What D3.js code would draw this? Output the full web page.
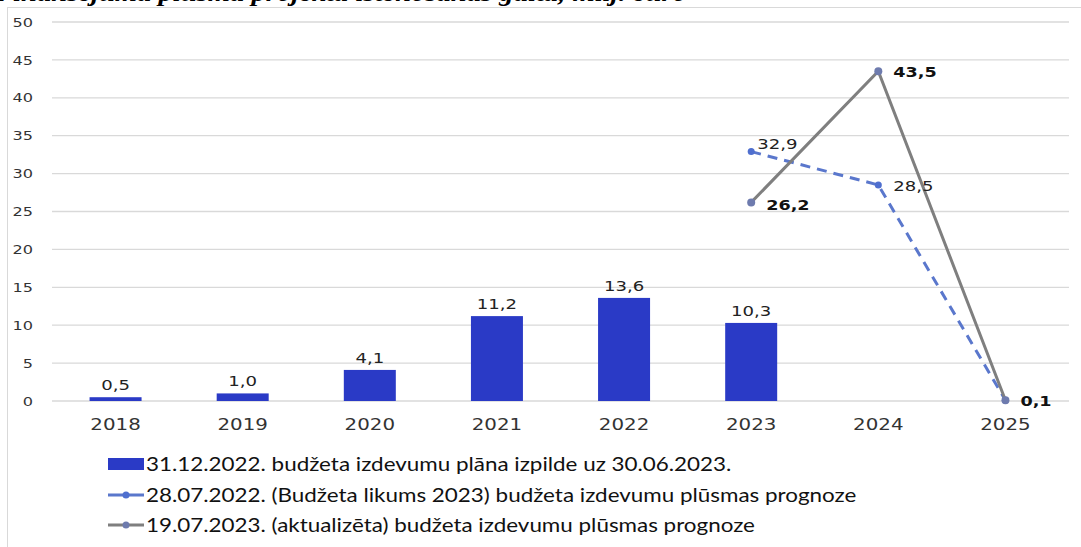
<!DOCTYPE html>
<html>
<head>
<meta charset="utf-8">
<script src="https://cdn.jsdelivr.net/npm/d3@7"></script>
<style>
  body { margin: 0; background: #fff; }
  svg { display: block; }
</style>
</head>
<body>
<svg id="chart"></svg>
<script>
const years = ["2018", "2019", "2020", "2021", "2022", "2023", "2024", "2025"];
const barValues = [0.5, 1.0, 4.1, 11.2, 13.6, 10.3, null, null];
const plan2022 = [null, null, null, null, null, 32.9, 28.5, 0.1];
const plan2023 = [null, null, null, null, null, 26.2, 43.5, 0.1];
const yTicks = [0, 5, 10, 15, 20, 25, 30, 35, 40, 45, 50];
const legendLabels = [
  "31.12.2022. budžeta izdevumu plāna izpilde uz 30.06.2023.",
  "28.07.2022. (Budžeta likums 2023) budžeta izdevumu plūsmas prognoze",
  "19.07.2023. (aktualizēta) budžeta izdevumu plūsmas prognoze"
];

const W = 1081, H = 547;
const SX = 1.24; // the picture is a bit wider than tall, so text is stretched
const fmt = v => v.toFixed(1).replace(".", ",");

const svg = d3.select("#chart").attr("width", W).attr("height", H);

// text helper: place at (x,y) and stretch horizontally around that point
function txt(sel, xf, yf) {
  return sel.attr("transform", (d, i) => `translate(${xf(d, i)},${yf(d, i)}) scale(${SX},1)`);
}

// cut-off title above the chart box
svg.append("text")
  .attr("transform", `translate(-6,1) scale(1.1,1)`)
  .style("font-family", "Liberation Serif")
  .style("font-style", "italic").style("font-weight", "bold")
  .style("font-size", "26px").attr("fill", "#000")
  .text("Finansējuma plūsma projekta īstenošanas gaitā, milj. euro");

// chart frame
svg.append("rect")
  .attr("x", 7.5).attr("y", 7.5).attr("width", W + 10).attr("height", H + 10)
  .attr("fill", "#fff").attr("stroke", "#d9d9d9");

const x = d3.scaleBand().domain(years).range([52, 1069]).paddingInner(0);
const y = d3.scaleLinear().domain([0, 50]).range([401, 22]);

// grid
svg.append("g").selectAll("line").data(yTicks).join("line")
  .attr("x1", 52).attr("x2", 1069)
  .attr("y1", d => y(d)).attr("y2", d => y(d))
  .attr("stroke", "#d9d9d9").attr("stroke-width", 1.3);

// y axis labels
txt(svg.append("g").selectAll("text").data(yTicks).join("text"),
    () => 33, d => y(d))
  .attr("dy", "0.36em")
  .attr("text-anchor", "end")
  .style("font-family", "DejaVu Sans").style("font-size", "13px")
  .attr("fill", "#333").text(d => d);

// x axis labels
txt(svg.append("g").selectAll("text").data(years).join("text"),
    d => x(d) + x.bandwidth() / 2, () => 430)
  .attr("text-anchor", "middle")
  .style("font-family", "DejaVu Sans").style("font-size", "16px")
  .attr("fill", "#333").text(d => d);

// bars
const barW = 52;
const bars = years.map((yr, i) => ({ yr, v: barValues[i] })).filter(d => d.v != null);
svg.append("g").selectAll("rect").data(bars).join("rect")
  .attr("x", d => x(d.yr) + x.bandwidth() / 2 - barW / 2)
  .attr("width", barW)
  .attr("y", d => y(d.v)).attr("height", d => y(0) - y(d.v))
  .attr("fill", "#2a3ac6");

txt(svg.append("g").selectAll("text").data(bars).join("text"),
    d => x(d.yr) + x.bandwidth() / 2, d => y(d.v) - 7)
  .attr("text-anchor", "middle")
  .style("font-family", "DejaVu Sans").style("font-size", "14.6px")
  .attr("fill", "#222").text(d => fmt(d.v));

const cx = d => x(d.yr) + x.bandwidth() / 2;
const line = d3.line().x(cx).y(d => y(d.v));

function series(vals) {
  return years.map((yr, i) => ({ yr, v: vals[i] })).filter(d => d.v != null);
}
const s1 = series(plan2022);
const s2 = series(plan2023);

// blue dashed forecast
svg.append("path").datum(s1).attr("d", line)
  .attr("fill", "none").attr("stroke", "#5a77cc")
  .attr("stroke-width", 3).attr("stroke-dasharray", "10,7");
svg.append("g").selectAll("circle").data(s1).join("circle")
  .attr("cx", cx).attr("cy", d => y(d.v)).attr("r", 3.5).attr("fill", "#4f6fcf");

// gray updated forecast
svg.append("path").datum(s2).attr("d", line)
  .attr("fill", "none").attr("stroke", "#7f7f7f").attr("stroke-width", 3);
svg.append("g").selectAll("circle").data(s2).join("circle")
  .attr("cx", cx).attr("cy", d => y(d.v)).attr("r", 4).attr("fill", "#6e7bae");

// line labels
const s1Off = [[6, -8], [15, 1]];
txt(svg.append("g").selectAll("text").data(s1.slice(0, 2)).join("text"),
    (d, i) => cx(d) + s1Off[i][0], (d, i) => y(d.v) + s1Off[i][1])
  .attr("dy", "0.36em")
  .style("font-family", "DejaVu Sans").style("font-size", "14.6px")
  .attr("fill", "#222").text(d => fmt(d.v));

const s2Off = [[15, 2], [15, 1], [15, 1]];
txt(svg.append("g").selectAll("text").data(s2).join("text"),
    (d, i) => cx(d) + s2Off[i][0], (d, i) => y(d.v) + s2Off[i][1])
  .attr("dy", "0.36em")
  .style("font-family", "DejaVu Sans").style("font-size", "14.2px").style("font-weight", "bold")
  .attr("fill", "#111").text(d => fmt(d.v));

// legend
const lg = svg.append("g").attr("transform", "translate(108,0)");
const rowsY = [464, 495, 525];
lg.append("rect").attr("x", 0).attr("y", rowsY[0] - 6).attr("width", 36).attr("height", 12).attr("fill", "#2a3ac6");
[["#5a77cc", "#4f6fcf"], ["#7f7f7f", "#6e7bae"]].forEach(([c, m], i) => {
  const yy = rowsY[i + 1];
  lg.append("line").attr("x1", 0).attr("x2", 36).attr("y1", yy).attr("y2", yy)
    .attr("stroke", c).attr("stroke-width", 3);
  lg.append("circle").attr("cx", 18).attr("cy", yy).attr("r", 3.5).attr("fill", m);
});
lg.selectAll("text.lab").data(legendLabels).join("text")
  .attr("class", "lab")
  .attr("transform", (d, i) => `translate(38,${rowsY[i]}) scale(1.15,1)`)
  .attr("dy", "0.36em")
  .style("font-family", "Lato").style("font-size", "19.5px")
  .attr("fill", "#111").text(d => d);
</script>
</body>
</html>
